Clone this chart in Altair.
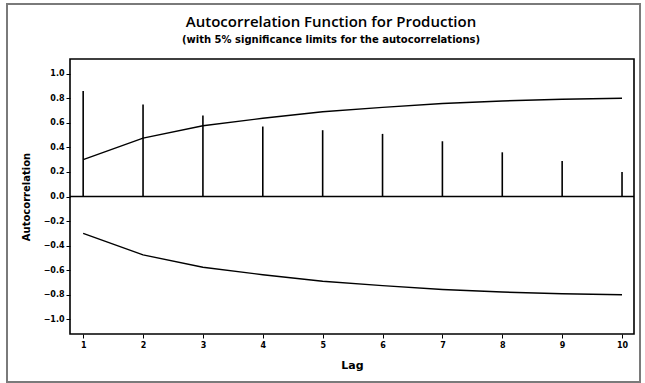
import altair as alt
import pandas as pd

lags = [1, 2, 3, 4, 5, 6, 7, 8, 9, 10]
acf = [0.86, 0.75, 0.66, 0.57, 0.54, 0.51, 0.45, 0.36, 0.29, 0.20]
upper = [0.30, 0.476, 0.576, 0.637, 0.69, 0.726, 0.757, 0.778, 0.792, 0.80]
lower = [-v for v in upper]
y_ticks = [-1.0, -0.8, -0.6, -0.4, -0.2, 0.0, 0.2, 0.4, 0.6, 0.8, 1.0]

df = pd.DataFrame({"Lag": lags, "ACF": acf, "Upper": upper, "Lower": lower, "Zero": [0.0] * len(lags)})

FONT = "DejaVu Sans"
W, H = 564, 275

xs = alt.Scale(domain=[0.78, 10.2], nice=False, zero=False)
ys = alt.Scale(domain=[-1.12, 1.12], nice=False)

xax = alt.Axis(values=lags, title="Lag", format="d", grid=False, domain=False,
               tickColor="black", tickSize=4, labelFontSize=8, labelFontWeight="bold",
               labelFont=FONT, labelColor="black", labelPadding=3, labelOverlap=False,
               titleFontSize=11, titleFontWeight="bold", titleFont=FONT, titleColor="black",
               titlePadding=10)
yax = alt.Axis(values=y_ticks, title="Autocorrelation", format=".1f", grid=False, domain=False,
               tickColor="black", tickSize=4, labelFontSize=8, labelFontWeight="bold",
               labelFont=FONT, labelColor="black", labelPadding=2, labelOverlap=False,
               labelBound=False, titleFontSize=10, titleFontWeight="bold", titleFont=FONT,
               titleColor="black", titlePadding=12)

base = alt.Chart(df)

bars = base.mark_rule(color="black", strokeWidth=1.6).encode(
    x=alt.X("Lag:Q", scale=xs, axis=xax),
    y=alt.Y("Zero:Q", scale=ys, axis=yax),
    y2="ACF:Q",
)

up_line = base.mark_line(color="black", strokeWidth=1.4).encode(
    x=alt.X("Lag:Q", scale=xs, axis=xax), y=alt.Y("Upper:Q", scale=ys, axis=yax))
lo_line = base.mark_line(color="black", strokeWidth=1.4).encode(
    x=alt.X("Lag:Q", scale=xs, axis=xax), y=alt.Y("Lower:Q", scale=ys, axis=yax))

zero_rule = alt.Chart(pd.DataFrame({"z": [0.0]})).mark_rule(color="black", strokeWidth=1.6).encode(
    y=alt.Y("z:Q", scale=ys, axis=yax))

frame = alt.Chart(pd.DataFrame({"a": [0]})).mark_rect(
    fill=None, fillOpacity=0, stroke="#7a7a7a", strokeWidth=2, clip=False).encode(
    x=alt.value(-63), x2=alt.value(570), y=alt.value(-55), y2=alt.value(323))

chart = alt.layer(bars, zero_rule, up_line, lo_line, frame).properties(
    width=W, height=H,
    background="white",
    title=alt.TitleParams(
        text="Autocorrelation Function for Production",
        subtitle="(with 5% significance limits for the autocorrelations)",
        anchor="middle", frame="group", dx=-21, offset=-42,
        font="Open Sans", fontSize=15, fontWeight=600, color="black",
        subtitleFont=FONT, subtitleFontSize=10, subtitleFontWeight="bold", subtitleColor="black",
        subtitlePadding=5,
    ),
    padding={"left": 70, "top": 59, "right": 11, "bottom": 49},
    autosize=alt.AutoSizeParams(type="none"),
).configure_view(stroke="black", strokeWidth=1.6)

chart.save("out.html", embed_options={"renderer": "svg", "actions": False})
